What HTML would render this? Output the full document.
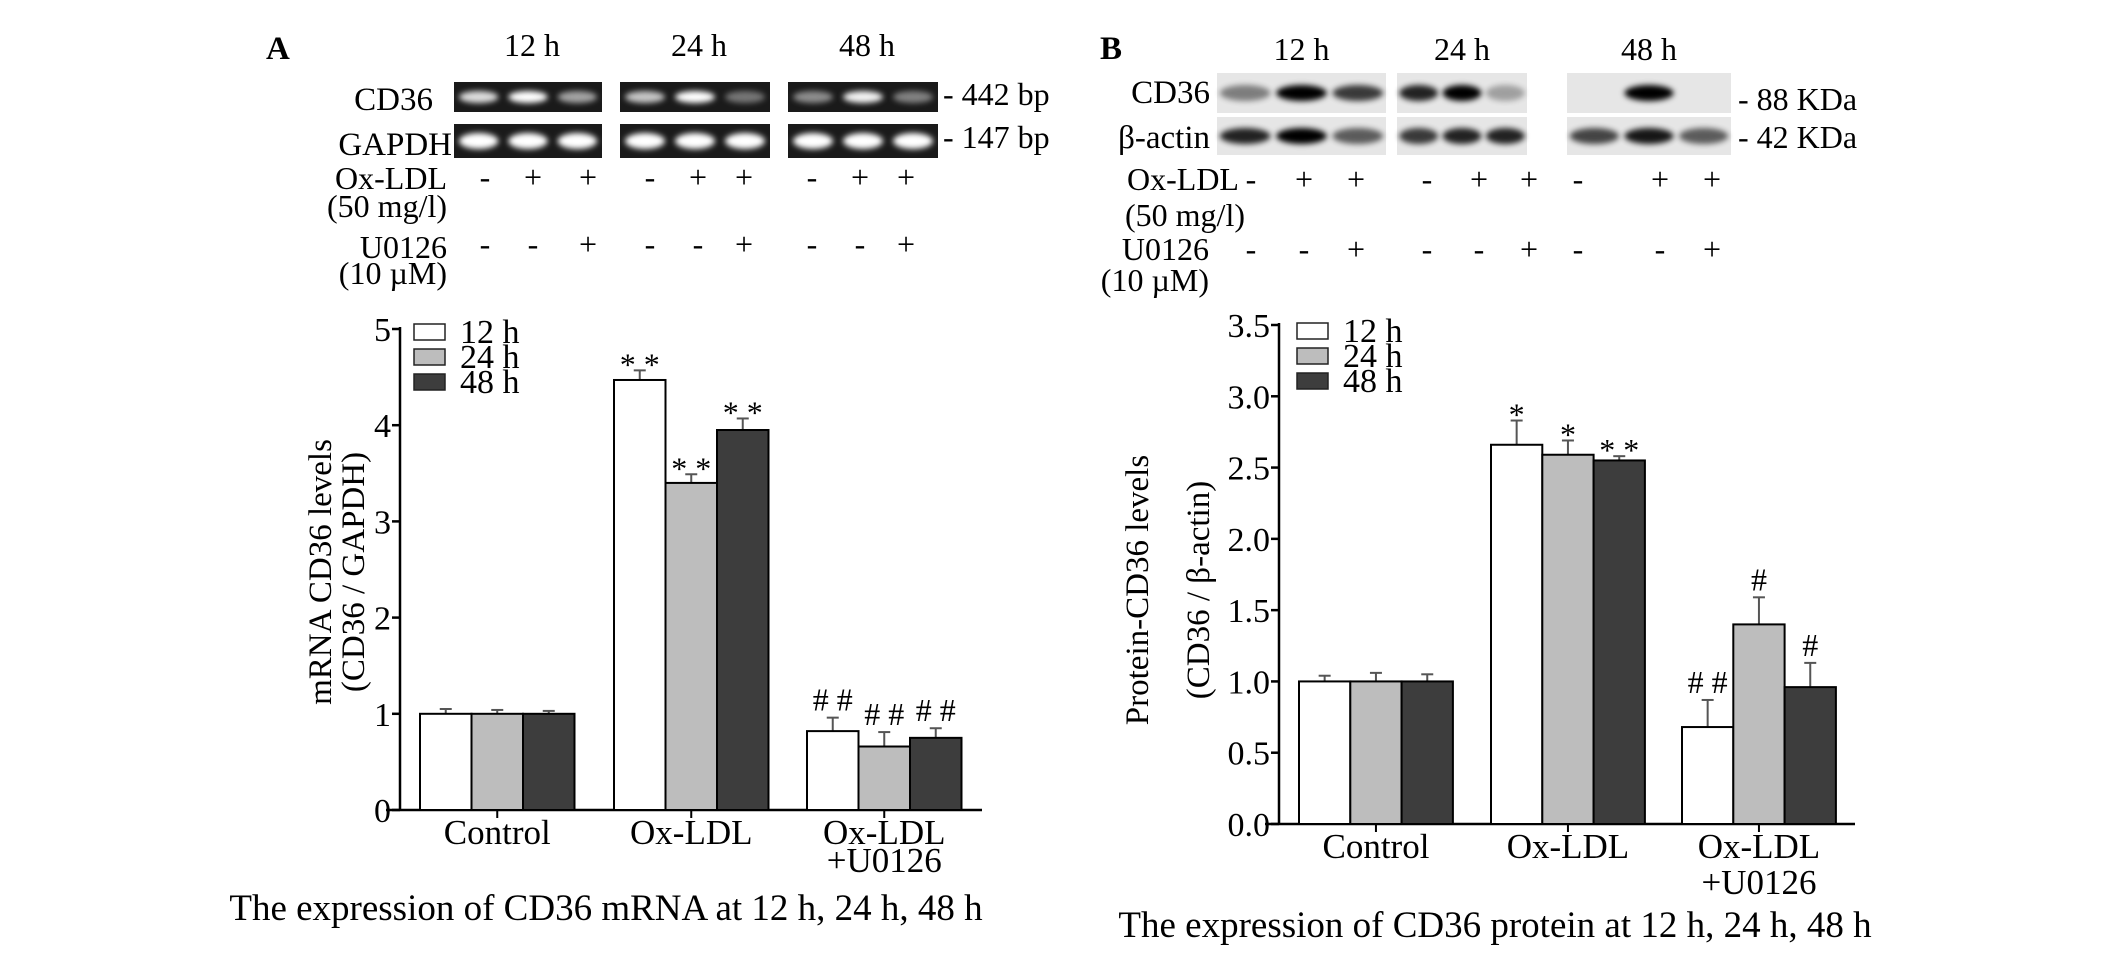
<!DOCTYPE html>
<html><head><meta charset="utf-8">
<style>
html,body{margin:0;padding:0;background:#fff;}
svg{display:block;font-family:"Liberation Serif",serif;}
.pre{white-space:pre;}
</style></head>
<body>
<svg id="fig" width="2126" height="954" viewBox="0 0 2126 954" xmlns="http://www.w3.org/2000/svg">
<defs>
<filter id="blur" x="-50%" y="-100%" width="200%" height="300%"><feGaussianBlur stdDeviation="3"/></filter>
</defs>
<g id="topPanels"></g>
<g id="chartA"></g>
<g id="chartB"></g>
</svg>
<script>
// ---- data ----
const categories = ["Control", "Ox-LDL", "Ox-LDL+U0126"];
const seriesNames = ["12 h", "24 h", "48 h"];
const mrna12 = [1.00, 4.47, 0.82];
const mrna24 = [1.00, 3.40, 0.66];
const mrna48 = [1.00, 3.95, 0.75];
const mrnaErr12 = [0.05, 0.10, 0.14];
const mrnaErr24 = [0.04, 0.09, 0.15];
const mrnaErr48 = [0.03, 0.12, 0.10];
const mrnaSig12 = ["", "* *", "# #"];
const mrnaSig24 = ["", "* *", "# #"];
const mrnaSig48 = ["", "* *", "# #"];
const mrnaTicks = ["0", "1", "2", "3", "4", "5"];
const prot12 = [1.00, 2.66, 0.68];
const prot24 = [1.00, 2.59, 1.40];
const prot48 = [1.00, 2.55, 0.96];
const protErr12 = [0.04, 0.17, 0.19];
const protErr24 = [0.06, 0.10, 0.19];
const protErr48 = [0.05, 0.03, 0.17];
const protSig12 = ["", "*", "# #"];
const protSig24 = ["", "*", "#"];
const protSig48 = ["", "* *", "#"];
const protTicks = ["0.0", "0.5", "1.0", "1.5", "2.0", "2.5", "3.0", "3.5"];

const NS = "http://www.w3.org/2000/svg";
const fills = ["#ffffff", "#bdbdbd", "#3d3d3d"];
function mk(parent, tag, attrs, text) {
  const e = document.createElementNS(NS, tag);
  for (const k in attrs) e.setAttribute(k, attrs[k]);
  if (text !== undefined) e.textContent = text;
  parent.appendChild(e);
  return e;
}

function drawChart(g, cfg) {
  const yScale = v => cfg.y0 - (v - cfg.min) / (cfg.max - cfg.min) * (cfg.y0 - cfg.yTop);
  const ya = mk(g, "line", {x1: cfg.ax, y1: cfg.yTop - 2, x2: cfg.ax, y2: cfg.y0, stroke: "#000", "stroke-width": 2.5});
  
  
  const xa = mk(g, "line", {x1: cfg.ax - 14, y1: cfg.y0, x2: cfg.axEnd, y2: cfg.y0, stroke: "#000", "stroke-width": 2.5});
  
  
  cfg.ticks.forEach((t) => {
    const v = parseFloat(t);
    const y = yScale(v);
    mk(g, "line", {x1: cfg.ax - 8, y1: y, x2: cfg.ax, y2: y, stroke: "#000", "stroke-width": 2.5});
    const tl = mk(g, "text", {x: cfg.ax - 9, y: y + 12, "text-anchor": "end", "font-size": 34}, t);
    
    
  });
  const series = [cfg.s12, cfg.s24, cfg.s48];
  const errs = [cfg.e12, cfg.e24, cfg.e48];
  const sigs = [cfg.g12, cfg.g24, cfg.g48];
  categories.forEach((c, ci) => {
    const gx = cfg.groupLeft[ci];
    series.forEach((s, si) => {
      const x = gx + si * cfg.bw;
      const yt = yScale(s[ci]);
      const ye = yScale(s[ci] + errs[si][ci]);
      const cx = x + cfg.bw / 2;
      const el = mk(g, "line", {x1: cx, y1: yt, x2: cx, y2: ye, stroke: "#555", "stroke-width": 2});
      
      
      mk(g, "line", {x1: cx - 6, y1: ye, x2: cx + 6, y2: ye, stroke: "#555", "stroke-width": 2});
      const r = mk(g, "rect", {x: x, y: yt, width: cfg.bw, height: cfg.y0 - yt, fill: fills[si], stroke: "#000", "stroke-width": 2});
      
      
      if (sigs[si][ci]) {
        const st = mk(g, "text", {x: cx, y: ye - 7 + (sigs[si][ci].includes("*") ? 12 : 0), "text-anchor": "middle", "font-size": 32, "class": "pre"}, sigs[si][ci]);
        
        
      }
    });
    const tcx = gx + cfg.bw * 1.5;
    mk(g, "line", {x1: tcx, y1: cfg.y0, x2: tcx, y2: cfg.y0 + 8, stroke: "#000", "stroke-width": 2});
    const parts = c === "Ox-LDL+U0126" ? ["Ox-LDL", "+U0126"] : [c];
    parts.forEach((p, pi) => {
      const xl = mk(g, "text", {x: tcx, y: cfg.y0 + 34 + pi * cfg.lineGap, "text-anchor": "middle", "font-size": 35}, p);
      
      
    });
  });
  seriesNames.forEach((n, i) => {
    const ly = cfg.legY + i * 25;
    const lr = mk(g, "rect", {x: cfg.legX, y: ly, width: 31, height: 16, fill: fills[i], stroke: "#222", "stroke-width": 1.5});
    
    
    const lt = mk(g, "text", {x: cfg.legX + 46, y: ly + 19, "font-size": 34}, n);
    
    
  });
  cfg.title.forEach((t, i) => {
    const tt = mk(g, "text", {x: cfg.titleX[i], y: cfg.titleY, "text-anchor": "middle", "font-size": 33, transform: "rotate(-90 " + cfg.titleX[i] + " " + cfg.titleY + ")", dy: 11}, t);
    
    
  });
  const cap = mk(g, "text", {x: cfg.capX, y: cfg.capY, "text-anchor": "middle", "font-size": 37}, cfg.caption);
  
  
}

drawChart(document.getElementById("chartA"), {
  ax: 400, axEnd: 982, y0: 810, yTop: 329, min: 0, max: 5,
  ticks: mrnaTicks, groupLeft: [420, 614, 807], bw: 51.5,
  s12: mrna12, s24: mrna24, s48: mrna48, e12: mrnaErr12, e24: mrnaErr24, e48: mrnaErr48,
  g12: mrnaSig12, g24: mrnaSig24, g48: mrnaSig48,
  legX: 414, legY: 324, lineGap: 28,
  title: ["mRNA CD36 levels", "(CD36 / GAPDH)"], titleX: [320, 353], titleY: 572,
  caption: "The expression of CD36 mRNA at 12 h, 24 h, 48 h", capX: 606, capY: 920
});
drawChart(document.getElementById("chartB"), {
  ax: 1279, axEnd: 1855, y0: 824, yTop: 325, min: 0, max: 3.5,
  ticks: protTicks, groupLeft: [1299, 1491, 1682], bw: 51.3,
  s12: prot12, s24: prot24, s48: prot48, e12: protErr12, e24: protErr24, e48: protErr48,
  g12: protSig12, g24: protSig24, g48: protSig48,
  legX: 1297, legY: 323, lineGap: 36,
  title: ["Protein-CD36 levels", "(CD36 / β-actin)"], titleX: [1137, 1198], titleY: 590,
  caption: "The expression of CD36 protein at 12 h, 24 h, 48 h", capX: 1495, capY: 937
});

// ---- top blot panels ----
const topG = document.getElementById("topPanels");
function txt(x, y, s, size, anchor, name, weight) {
  const t = mk(topG, "text", {x: x, y: y, "font-size": size, "text-anchor": anchor || "start", "font-weight": weight || "normal"}, s);
  
  
  return t;
}
txt(266, 59, "A", 33, "start", "panel-label-a", "bold");
const gelPanels = [[454, 602], [620, 770], [788, 938]];
const gelTimes = ["12 h", "24 h", "48 h"];
const cdInt = [[0.85, 1, 0.6], [0.75, 1, 0.4], [0.5, 0.95, 0.45]];
gelPanels.forEach((p, i) => {
  txt((p[0] + p[1]) / 2 + 4, 56, gelTimes[i], 32, "middle", "time-label");
  [[82, 30], [124, 34]].forEach((row, ri) => {
    const r = mk(topG, "rect", {x: p[0], y: row[0], width: p[1] - p[0], height: row[1], fill: "#1a1a1a"});
    
    
    for (let l = 0; l < 3; l++) {
      const w = (p[1] - p[0]) / 3;
      const op = ri ? 1 : cdInt[i][l];
      mk(topG, "ellipse", {cx: p[0] + w * (l + 0.5), cy: row[0] + row[1] / 2, rx: w * 0.4, ry: ri ? 8 : 6, fill: "#fff", opacity: op, filter: "url(#blur)"});
    }
  });
});
txt(433, 110, "CD36", 33, "end", "cd36-row-label");
txt(452, 155, "GAPDH", 33, "end", "gapdh-row-label");
txt(943, 105, "- 442 bp", 32, "start", "size-marker");
txt(943, 148, "- 147 bp", 32, "start", "size-marker");
txt(447, 189, "Ox-LDL", 32, "end", "ox-ldl-row-label");
txt(447, 217, "(50 mg/l)", 32, "end", "ox-ldl-dose");
txt(447, 258, "U0126", 32, "end", "u0126-row-label");
txt(447, 284, "(10 µM)", 32, "end", "u0126-dose");
const aOx = ["-", "+", "+", "-", "+", "+", "-", "+", "+"];
const aU = ["-", "-", "+", "-", "-", "+", "-", "-", "+"];
const aXs = [485, 533, 588, 650, 698, 744, 812, 860, 906];
aXs.forEach((x, i) => {
  txt(x, 188, aOx[i], 32, "middle", "treatment-sign");
  txt(x, 255, aU[i], 32, "middle", "treatment-sign");
});
txt(1100, 59, "B", 33, "start", "panel-label-b", "bold");
const wbPanels = [[1217, 1386], [1397, 1527], [1567, 1731]];
const wbCd = [[0.45, 1, 0.75], [0.85, 1, 0.3], [0, 1, 0]];
const wbAct = [[0.85, 1, 0.6], [0.75, 0.85, 0.85], [0.7, 0.9, 0.6]];
wbPanels.forEach((p, i) => {
  txt((p[0] + p[1]) / 2, 60, gelTimes[i], 32, "middle", "time-label");
  [[73, 40], [117, 38]].forEach((row, ri) => {
    const r = mk(topG, "rect", {x: p[0], y: row[0], width: p[1] - p[0], height: row[1], fill: "#e6e6e6"});
    
    
    for (let l = 0; l < 3; l++) {
      const w = (p[1] - p[0]) / 3;
      const op = ri ? wbAct[i][l] : wbCd[i][l];
      if (op > 0) mk(topG, "ellipse", {cx: p[0] + w * (l + 0.5), cy: row[0] + row[1] / 2, rx: w * 0.45, ry: 8, fill: "#000", opacity: op, filter: "url(#blur)"});
    }
  });
});
txt(1210, 103, "CD36", 33, "end", "cd36-row-label");
txt(1210, 148, "β-actin", 33, "end", "beta-actin-row-label");
txt(1738, 110, "- 88 KDa", 32, "start", "size-marker");
txt(1738, 148, "- 42 KDa", 32, "start", "size-marker");
txt(1127, 190, "Ox-LDL", 32, "start", "ox-ldl-row-label");
txt(1125, 226, "(50 mg/l)", 32, "start", "ox-ldl-dose");
txt(1209, 260, "U0126", 32, "end", "u0126-row-label");
txt(1209, 291, "(10 µM)", 32, "end", "u0126-dose");
const bXs = [1251, 1304, 1356, 1427, 1479, 1529, 1578, 1660, 1712];
bXs.forEach((x, i) => {
  txt(x, 190, aOx[i], 32, "middle", "treatment-sign");
  txt(x, 260, aU[i], 32, "middle", "treatment-sign");
});
</script>
</body></html>
